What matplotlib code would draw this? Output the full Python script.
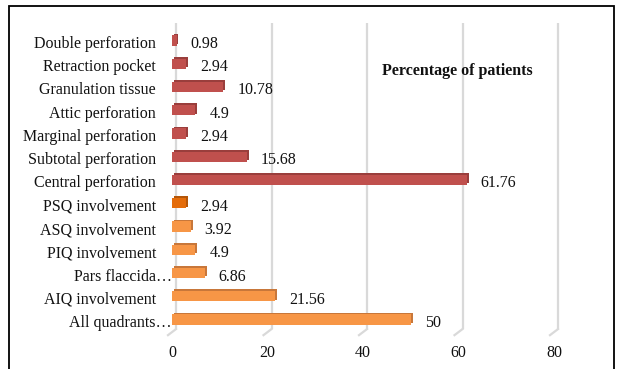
import matplotlib
matplotlib.use("Agg")
import matplotlib.pyplot as plt
from matplotlib.patches import Rectangle
from matplotlib.transforms import ScaledTranslation, blended_transform_factory

categories = ["All quadrants\u2026", "AIQ involvement", "Pars flaccida\u2026", "PIQ involvement",
              "ASQ involvement", "PSQ involvement", "Central perforation", "Subtotal perforation",
              "Marginal perforation", "Attic perforation", "Granulation tissue",
              "Retraction pocket", "Double perforation"]
values = [50, 21.56, 6.86, 4.9, 3.92, 2.94, 61.76, 15.68, 2.94, 4.9, 10.78, 2.94, 0.98]
value_labels = ["50", "21.56", "6.86", "4.9", "3.92", "2.94", "61.76", "15.68", "2.94",
                "4.9", "10.78", "2.94", "0.98"]
face_colors = ["#F79646"] * 5 + ["#E46C0A"] + ["#C0504D"] * 7
side_colors = ["#C8773A"] * 5 + ["#B45608"] + ["#9A3E3C"] * 7
x_ticks = [0, 20, 40, 60, 80]
title = "Percentage of patients"

plt.rcParams["font.family"] = ["Liberation Serif", "DejaVu Serif"]
FS = 11.5
TXT = "#111111"

W, H, DPI = 617, 369, 100
fig = plt.figure(figsize=(W / DPI, H / DPI), dpi=DPI)
ax = fig.add_axes([172 / W, (H - 337) / H, (554 - 172) / W, (337 - 23) / H])
ax.set_xlim(0, 80)
ax.set_ylim(-0.6, 12.9)
for s in ax.spines.values():
    s.set_visible(False)

# 3D-ish gridlines (back wall + floor diagonal)
gx = ScaledTranslation(4 / DPI, 0, fig.dpi_scale_trans)
for t in x_ticks:
    ax.plot([t, t], [-0.26, 12.9], color="#D9D9D9", lw=1.6, transform=ax.transData + gx,
            clip_on=False, zorder=0, solid_capstyle="butt")
    ax.plot([t, t - 8 / 4.775], [-0.26, -0.52], color="#D9D9D9", lw=1.6,
            transform=ax.transData + gx, clip_on=False, zorder=0)

ypos = list(range(len(categories)))
up = ScaledTranslation(0, 3.5 / DPI, fig.dpi_scale_trans)
depth = ScaledTranslation(1.8 / DPI, 1.8 / DPI, fig.dpi_scale_trans)
bh = 0.44
ax.barh(ypos, values, height=bh, color=side_colors, transform=ax.transData + up + depth,
        zorder=2, clip_on=False)
ax.barh(ypos, values, height=bh, color=face_colors, transform=ax.transData + up,
        zorder=3, clip_on=False)

for y, v, lab in zip(ypos, values, value_labels):
    ax.annotate(lab, (v, y), xytext=(10, 0), textcoords="offset points",
                ha="left", va="center", fontsize=FS, color=TXT)

# category labels
bt = blended_transform_factory(ax.transAxes, ax.transData)
for y, c in zip(ypos, categories):
    off = 0 if c.endswith("\u2026") else -16
    ax.text(0, y, c, ha="right", va="center", fontsize=FS, color=TXT,
            transform=bt + ScaledTranslation(off / DPI, 0, fig.dpi_scale_trans))

ax.set_yticks([])
ax.set_xticks(x_ticks)
ax.set_xticklabels([str(t) for t in x_ticks], fontsize=FS, color=TXT)
ax.tick_params(axis="x", length=0, pad=6)

ax.text(59.7, 10.84, title, ha="center", va="center", fontsize=FS, fontweight="bold", color=TXT)

fig.patches.append(Rectangle((9 / W, -0.1), (614 - 9) / W, 1.1 - 6 / H, transform=fig.transFigure,
                             fill=False, edgecolor="black", lw=1.3, zorder=10))

fig.savefig("out.png", dpi=DPI)
